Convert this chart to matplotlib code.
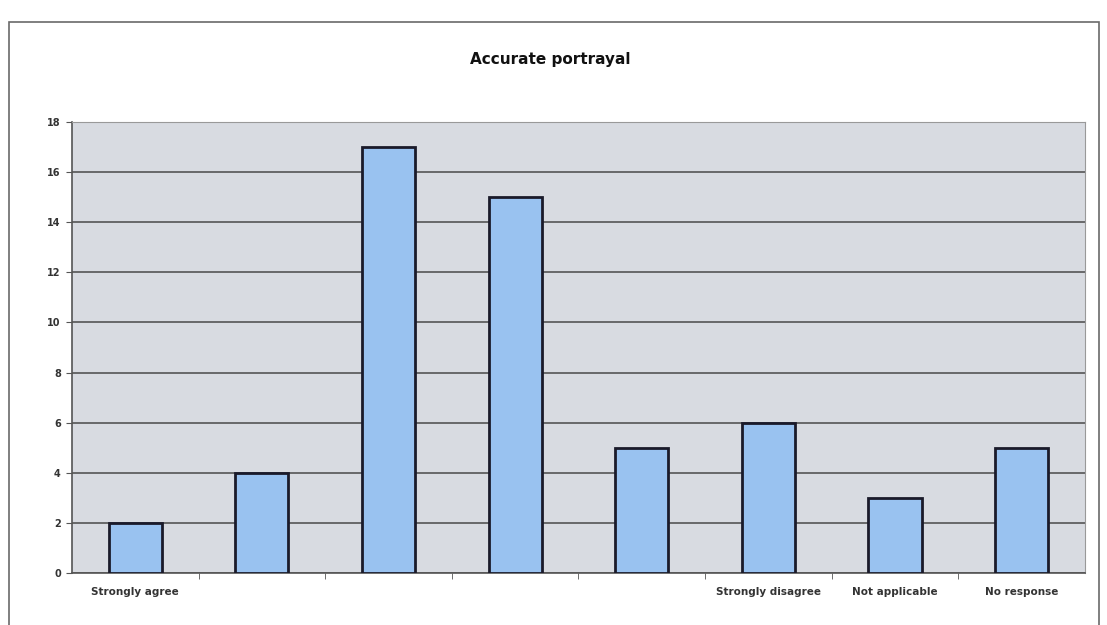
import matplotlib
matplotlib.use("Agg")
import matplotlib.pyplot as plt
import numpy as np
from matplotlib.patches import Rectangle

# survey answers for "Accurate portrayal"
categories = ["Strongly agree", "", "", "", "", "Strongly disagree", "Not applicable", "No response"]
counts = [2, 4, 17, 15, 5, 6, 3, 5]
yticks = [0, 2, 4, 6, 8, 10, 12, 14, 16, 18]

fig = plt.figure(figsize=(11.07, 6.25), dpi=100)
fig.patch.set_facecolor("white")

# outer chart frame
fig.patches.append(Rectangle((0.008, -0.05), 0.985, 1.015, transform=fig.transFigure,
                             fill=False, edgecolor="#6a6a6a", linewidth=1.2))

ax = fig.add_axes([0.065, 0.083, 0.915, 0.722])
ax.set_facecolor("#d8dbe1")

x = np.arange(len(counts))
ax.bar(x, counts, width=0.42, color="#99c2f0", edgecolor="#1a1a2a", linewidth=2, zorder=3)

ax.set_ylim(0, 18)
ax.set_yticks(yticks)
ax.set_yticklabels([str(v) for v in yticks], fontsize=7, fontweight="bold", color="#333333")
ax.yaxis.grid(True, color="#555555", linewidth=1.2, zorder=1)
ax.set_axisbelow(True)

ax.set_xlim(-0.5, len(counts) - 0.5)
ax.set_xticks(x)
ax.set_xticklabels(categories, fontsize=7.5, fontweight="bold", color="#333333")
ax.tick_params(axis="x", length=0, pad=10)
ax.set_xticks(np.arange(0.5, len(counts) - 0.5, 1), minor=True)
ax.tick_params(axis="x", which="minor", length=4, color="#555555")
ax.tick_params(axis="y", length=4, color="#555555", pad=4)

for side in ["top", "right"]:
    ax.spines[side].set_color("#999999")
    ax.spines[side].set_linewidth(0.8)
ax.spines["left"].set_color("#555555")
ax.spines["bottom"].set_color("#555555")
ax.spines["left"].set_linewidth(1.2)
ax.spines["bottom"].set_linewidth(1.2)

fig.text(0.497, 0.905, "Accurate portrayal", ha="center", va="center",
         fontsize=11, fontweight="bold", color="#111111")

fig.savefig("out.png", dpi=100)
